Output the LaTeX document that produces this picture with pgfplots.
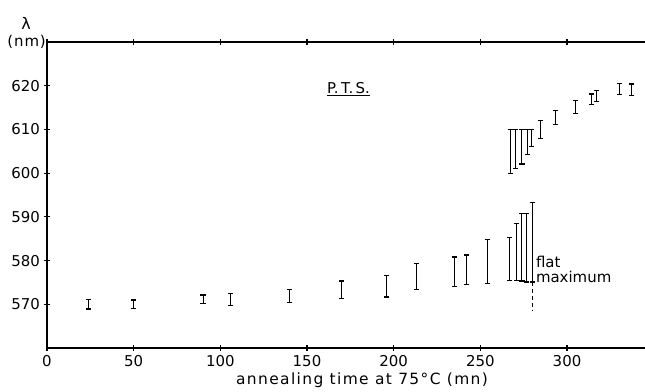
\documentclass[border=0pt]{standalone}
\usepackage{pgfplots}
\pgfplotsset{compat=1.18}
\usepackage{fontspec}
\setmainfont{DejaVu Sans}
\newfontfamily\widefont[LetterSpace=9]{DejaVu Sans}
\newfontfamily\wideb[LetterSpace=6]{DejaVu Sans}
\begin{document}
\fontsize{15pt}{17pt}\selectfont
\begin{tikzpicture}
\begin{axis}[
  name=ax,
  scale only axis,
  width=598bp, height=306bp,
  xmin=0, xmax=345, ymin=560, ymax=630,
  axis x line=box, axis y line=left,
  y axis line style={-},
  axis line style={line width=1.1pt},
  xtick={0,50,...,300}, ytick={570,580,...,620},
  xticklabel pos=bottom,
  tick align=center,
  major tick length=6bp,
  tick style={line width=1.1pt, black},
  /pgf/number format/assume math mode=true,
  ticklabel style={font=\fontsize{15pt}{17pt}\selectfont},
  xlabel={annealing time at 75°C (mn)},
  xlabel style={font=\widefont\fontsize{15.5pt}{17pt}\selectfont, yshift=4bp, xshift=16bp},
  xticklabel style={yshift=1bp},
  yticklabel style={xshift=1bp},
  clip=false,
]
\addplot[only marks, mark=text, text mark={}, black,
  error bars/.cd, y dir=both, y explicit,
  error bar style={line width=0.9pt, black},
  error mark options={rotate=90, mark size=2.6bp, line width=1.3pt, black, draw=black}]
coordinates {
(24,570) +- (0,1.1)
(50,570) +- (0,1.0)
(90,571.15) +- (0,0.95)
(106,571.05) +- (0,1.35)
(140,571.9) +- (0,1.5)
(170,573.3) +- (0,2.0)
(196,574.15) +- (0,2.45)
(213,576.35) +- (0,2.95)
(235,577.4) +- (0,3.4)
(242,577.9) +- (0,3.4)
(254,579.8) +- (0,5.0)
(267,580.35) +- (0,4.85)
(271,581.95) +- (0,6.45)
(274,583.05) +- (0,7.75)
(276.5,582.95) +- (0,7.85)
(280,584.2) +- (0,9.1)
};
\addplot[only marks, mark=text, text mark={}, black,
  error bars/.cd, y dir=both, y explicit,
  error bar style={line width=0.9pt, black},
  error mark options={rotate=90, mark size=2.6bp, line width=1.3pt, black, draw=black}]
coordinates {
(267.2,604.95) +- (0,5.05)
(270.3,605.55) +- (0,4.45)
(274,606.05) +- (0,3.95)
(277,607.1) +- (0,2.9)
(279.4,608.05) +- (0,1.95)
(284.5,610) +- (0,2)
(293.2,612.7) +- (0,1.6)
(305,615.1) +- (0,1.5)
(314,616.9) +- (0,1.2)
(317.2,617.65) +- (0,1.25)
(330.3,619.25) +- (0,1.25)
(337,619.05) +- (0,1.35)
};
\addplot[black, dashed, line width=0.9pt, dash pattern=on 4bp off 3bp] coordinates {(280,575.1) (280,568.5)};
\node[anchor=west, align=left, inner sep=0pt, font=\fontsize{15pt}{14.5pt}\selectfont] at (axis cs:282,578) {flat\\maximum};
\node[inner sep=0pt, font=\fontsize{15pt}{17pt}\selectfont] at (axis cs:174,619.3) {\underline{P.\,T.\,S.}};
\node[anchor=east, inner sep=0pt, font=\wideb\fontsize{15pt}{17pt}\selectfont] at ([xshift=-1bp]axis cs:0,630) {(nm)};
\node[inner sep=0pt, font=\fontsize{16pt}{16pt}\selectfont] at ([xshift=-21bp,yshift=19bp]axis cs:0,630) {λ};
\end{axis}
\pgfresetboundingbox
\path ([shift={(-47bp,-44bp)}]ax.south west) rectangle ([shift={(0bp,42bp)}]ax.north east);
\end{tikzpicture}
\end{document}
